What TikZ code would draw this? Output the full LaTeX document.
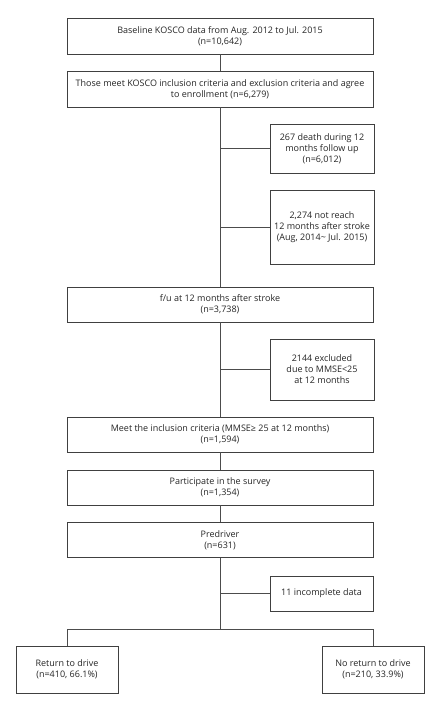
\documentclass[tikz,border=0pt]{standalone}
\usepackage{fontspec}
\setmainfont{Open Sans}
\begin{document}
\begin{tikzpicture}[x=1pt,y=-1pt,
  box/.style={draw=black!75,line width=0.8pt,inner sep=1pt,align=center,
    font=\fontsize{9}{11}\selectfont,text=black!85},
  conn/.style={draw=black!70,line width=0.8pt}]
\useasboundingbox (0,0) rectangle (440,702);
\fill[white] (0,0) rectangle (440,702);
\node[box,minimum width=306pt,minimum height=36pt] (b1) at (220,36) {Baseline KOSCO data from Aug. 2012 to Jul. 2015\\(n=10,642)};
\node[box,minimum width=306pt,minimum height=36pt] (b2) at (220,89) {Those meet KOSCO inclusion criteria and exclusion criteria and agree\\to enrollment (n=6,279)};
\node[box,minimum width=104pt,minimum height=49pt] (b3) at (322,148.5) {267 death during 12\\months follow up\\(n=6,012)};
\node[box,minimum width=104pt,minimum height=74pt] (b4) at (322,227) {2,274 not reach\\12 months after stroke\\(Aug, 2014\textasciitilde\ Jul. 2015)};
\node[box,minimum width=306pt,minimum height=35pt] (b5) at (220,304.5) {f/u at 12 months after stroke\\(n=3,738)};
\node[box,minimum width=104pt,minimum height=61pt] (b6) at (322,369.5) {2144 excluded\\due to MMSE<25\\at 12 months};
\node[box,minimum width=306pt,minimum height=35pt] (b7) at (220,434.5) {Meet the inclusion criteria (MMSE≥ 25 at 12 months)\\(n=1,594)};
\node[box,minimum width=306pt,minimum height=35pt] (b8) at (220,487.5) {Participate in the survey\\(n=1,354)};
\node[box,minimum width=306pt,minimum height=35pt] (b9) at (220,540) {Predriver\\(n=631)};
\node[box,minimum width=103pt,minimum height=35pt] (b10) at (321.5,593.5) {11 incomplete data};
\node[box,minimum width=102pt,minimum height=47pt] (b11) at (67,669.5) {Return to drive\\(n=410, 66.1\%)};
\node[box,minimum width=102pt,minimum height=47pt] (b12) at (373,669.5) {No return to drive\\(n=210, 33.9\%)};
\coordinate (split) at (220,629);
\draw[conn] (b1.south) -- (b2.north);
\draw[conn] (b2.south) -- (b5.north);
\draw[conn] (b3.west) -- (b3.west -| b2.south);
\draw[conn] (b4.west) -- (b4.west -| b2.south);
\draw[conn] (b5.south) -- (b7.north);
\draw[conn] (b6.west) -- (b6.west -| b5.south);
\draw[conn] (b7.south) -- (b8.north);
\draw[conn] (b8.south) -- (b9.north);
\draw[conn] (b9.south) -- (split);
\draw[conn] (b10.west) -- (b10.west -| b9.south);
\draw[conn] (b11.north) -- (b11.north |- split) -- (b12.north |- split) -- (b12.north);
\end{tikzpicture}
\end{document}
